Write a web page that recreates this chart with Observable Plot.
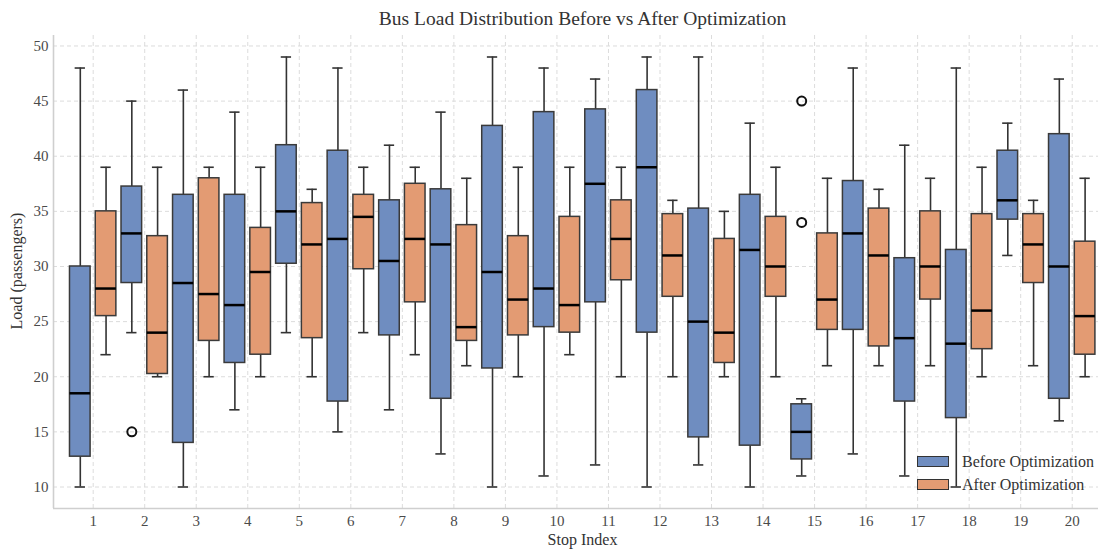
<!DOCTYPE html>
<html>
<head>
<meta charset="utf-8">
<script src="https://cdn.jsdelivr.net/npm/d3@7"></script>
<script src="https://cdn.jsdelivr.net/npm/@observablehq/plot@0.6"></script>
<style>
  body { margin: 0; background: #fff; }
  #wrap { position: relative; width: 1100px; height: 550px; overflow: hidden; font-family: "Liberation Serif", "DejaVu Serif", serif; color: #333; }
  #title { position: absolute; left: 53px; width: 1059px; top: 9px; text-align: center; font-size: 19.5px; line-height: 20px; color: #333; white-space: nowrap; }
  #xlabel { position: absolute; left: 53px; width: 1059px; top: 532px; text-align: center; font-size: 16px; line-height: 16px; color: #333; }
  #ylabel { position: absolute; left: 17px; top: 271px; transform: translate(-50%, -50%) rotate(-90deg); white-space: nowrap; font-size: 16px; line-height: 18px; color: #333; }
  #legend { position: absolute; left: 917px; top: 450px; font-size: 16px; color: #333; }
  .item { display: flex; align-items: center; height: 23.3px; white-space: nowrap; }
  .patch { width: 30px; height: 9px; border: 1.5px solid #333; margin-right: 13px; }
</style>
</head>
<body>
<div id="wrap">
  <div id="chart"></div>
  <div id="title">Bus Load Distribution Before vs After Optimization</div>
  <div id="xlabel">Stop Index</div>
  <div id="ylabel">Load (passengers)</div>
  <div id="legend"></div>
</div>
<script>
const stops = [1, 2, 3, 4, 5, 6, 7, 8, 9, 10, 11, 12, 13, 14, 15, 16, 17, 18, 19, 20];
const yTicks = [10, 15, 20, 25, 30, 35, 40, 45, 50];
const seriesNames = ["Before Optimization", "After Optimization"];
const seriesColors = ["#6f8dc0", "#e39b73"];

// Before optimization: whisker low, Q1, median, Q3, whisker high
const beforeLow  = [10, 24, 10, 17, 24, 15, 17, 13, 10, 11, 12, 10, 12, 10, 11, 13, 11, 10, 31, 16];
const beforeQ1   = [12.75, 28.5, 14, 21.25, 30.25, 17.75, 23.75, 18, 20.75, 24.5, 26.75, 24, 14.5, 13.75, 12.5, 24.25, 17.75, 16.25, 34.25, 18];
const beforeMed  = [18.5, 33, 28.5, 26.5, 35, 32.5, 30.5, 32, 29.5, 28, 37.5, 39, 25, 31.5, 15, 33, 23.5, 23, 36, 30];
const beforeQ3   = [30, 37.25, 36.5, 36.5, 41, 40.5, 36, 37, 42.75, 44, 44.25, 46, 35.25, 36.5, 17.5, 37.75, 30.75, 31.5, 40.5, 42];
const beforeHigh = [48, 45, 46, 44, 49, 48, 41, 44, 49, 48, 47, 49, 49, 43, 18, 48, 41, 48, 43, 47];

// After optimization
const afterLow  = [22, 20, 20, 20, 20, 24, 22, 21, 20, 22, 20, 20, 20, 20, 21, 21, 21, 20, 21, 20];
const afterQ1   = [25.5, 20.25, 23.25, 22, 23.5, 29.75, 26.75, 23.25, 23.75, 24, 28.75, 27.25, 21.25, 27.25, 24.25, 22.75, 27, 22.5, 28.5, 22];
const afterMed  = [28, 24, 27.5, 29.5, 32, 34.5, 32.5, 24.5, 27, 26.5, 32.5, 31, 24, 30, 27, 31, 30, 26, 32, 25.5];
const afterQ3   = [35, 32.75, 38, 33.5, 35.75, 36.5, 37.5, 33.75, 32.75, 34.5, 36, 34.75, 32.5, 34.5, 33, 35.25, 35, 34.75, 34.75, 32.25];
const afterHigh = [39, 39, 39, 39, 37, 39, 39, 38, 39, 39, 39, 36, 35, 39, 38, 37, 38, 39, 36, 38];

// Outliers (Before Optimization)
const outlierStops  = [2, 15, 15];
const outlierValues = [15, 45, 34];

const offset = 0.25, halfBox = 0.2, halfCap = 0.1;
const xDomain = [0.23, 20.51];
const yDomain = [8.05, 50.95];

function rowsFor(low, q1, med, q3, high, dx) {
  return stops.map((s, i) => ({stop: s, pos: s + dx, low: low[i], q1: q1[i], med: med[i], q3: q3[i], high: high[i]}));
}
const before = rowsFor(beforeLow, beforeQ1, beforeMed, beforeQ3, beforeHigh, -offset);
const after = rowsFor(afterLow, afterQ1, afterMed, afterQ3, afterHigh, offset);
const outliers = outlierStops.map((s, i) => ({pos: s - offset, value: outlierValues[i]}));

function boxMarks(rows, fill) {
  const edge = {stroke: "#333", strokeWidth: 1.6};
  return [
    Plot.ruleX(rows, {x: "pos", y1: "low", y2: "q1", ...edge}),
    Plot.ruleX(rows, {x: "pos", y1: "q3", y2: "high", ...edge}),
    Plot.ruleY(rows, {y: "low", x1: d => d.pos - halfCap, x2: d => d.pos + halfCap, ...edge}),
    Plot.ruleY(rows, {y: "high", x1: d => d.pos - halfCap, x2: d => d.pos + halfCap, ...edge}),
    Plot.rect(rows, {x1: d => d.pos - halfBox, x2: d => d.pos + halfBox, y1: "q1", y2: "q3", fill, stroke: "#3a3a3a", strokeWidth: 1.5}),
    Plot.ruleY(rows, {y: "med", x1: d => d.pos - halfBox, x2: d => d.pos + halfBox, stroke: "#000", strokeWidth: 2.5})
  ];
}

const chart = Plot.plot({
  width: 1100,
  height: 550,
  marginTop: 35,
  marginBottom: 42,
  marginLeft: 53,
  marginRight: 2,
  style: {fontFamily: '"Liberation Serif", "DejaVu Serif", serif', fontSize: "15px", color: "#4a4a4a", background: "#fff"},
  x: {type: "linear", domain: xDomain},
  y: {type: "linear", domain: yDomain},
  marks: [
    Plot.gridY(yTicks, {stroke: "#dcdcdc", strokeOpacity: 1, strokeDasharray: "4,3", strokeWidth: 1}),
    Plot.gridX(stops, {stroke: "#dcdcdc", strokeOpacity: 1, strokeDasharray: "4,3", strokeWidth: 1}),
    Plot.ruleY([yDomain[0]], {stroke: "#cfcfcf", strokeWidth: 1.6}),
    Plot.ruleX([xDomain[0]], {stroke: "#cfcfcf", strokeWidth: 1.6}),
    Plot.axisX(stops, {tickSize: 0, tickPadding: 7, label: null, tickFormat: d => String(d)}),
    Plot.axisY(yTicks, {tickSize: 0, tickPadding: 5, label: null, tickFormat: d => String(d)}),
    ...boxMarks(before, seriesColors[0]),
    ...boxMarks(after, seriesColors[1]),
    Plot.dot(outliers, {x: "pos", y: "value", r: 4.5, stroke: "#111", strokeWidth: 2, fill: "none"})
  ]
});
document.getElementById("chart").appendChild(chart);

const legend = document.getElementById("legend");
seriesNames.forEach((name, i) => {
  const item = document.createElement("div");
  item.className = "item";
  const patch = document.createElement("span");
  patch.className = "patch";
  patch.style.background = seriesColors[i];
  const label = document.createElement("span");
  label.textContent = name;
  item.appendChild(patch);
  item.appendChild(label);
  legend.appendChild(item);
});
</script>
</body>
</html>
